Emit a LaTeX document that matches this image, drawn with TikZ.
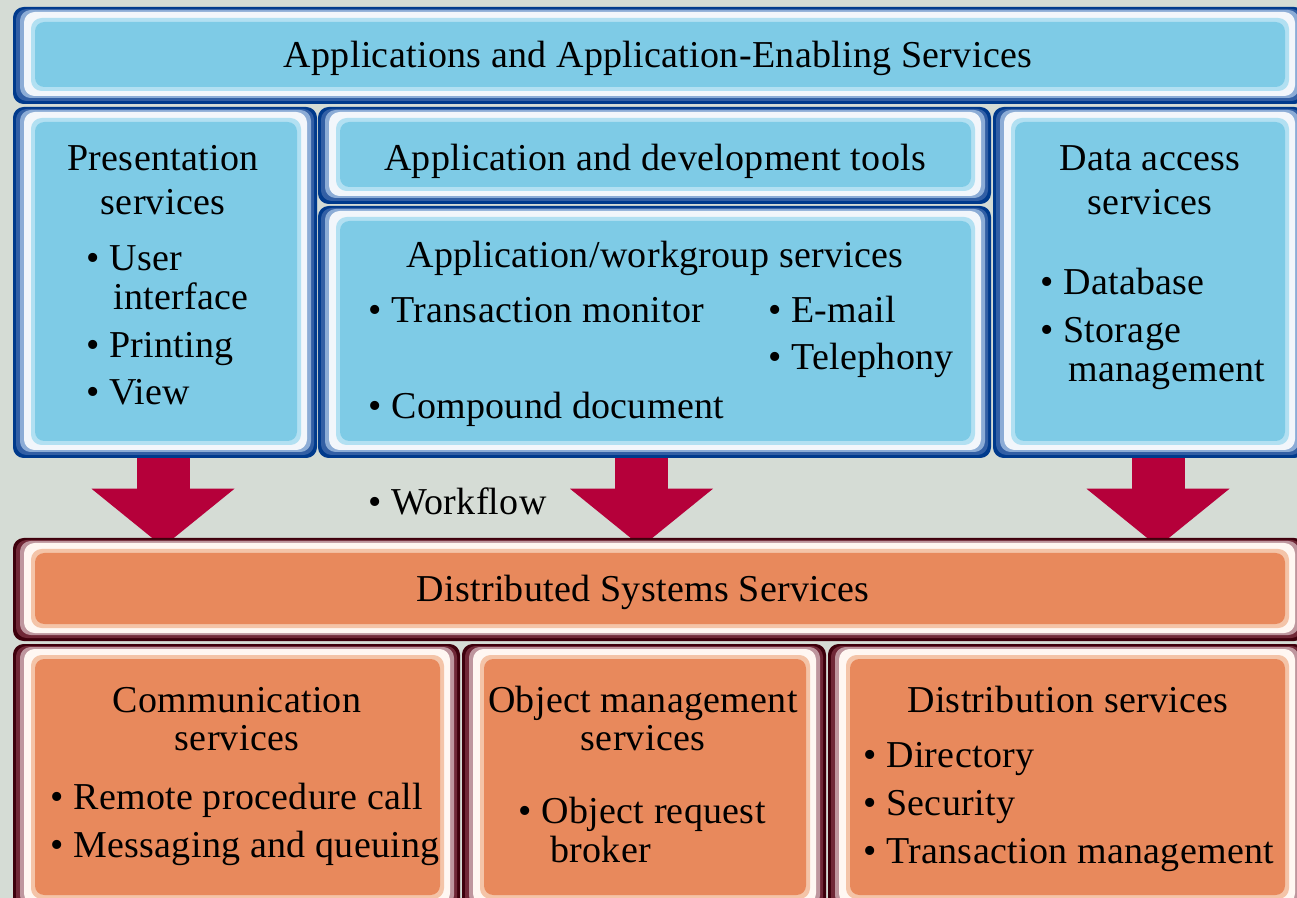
\documentclass[tikz,border=0pt]{standalone}
\usepackage{fontspec}
\setmainfont{Liberation Serif}[LetterSpace=0.8]
\usepackage{tikz}
\usetikzlibrary{arrows.meta,calc,fit}

\definecolor{bgGrey}{RGB}{213,220,213}
\definecolor{arrowRed}{RGB}{181,0,58}
% blue panels
\definecolor{skyEdge}{RGB}{0,58,140}
\definecolor{skyMid}{RGB}{50,95,165}
\definecolor{skyPale}{RGB}{140,172,214}
\definecolor{skyWhite}{RGB}{242,246,251}
\definecolor{skyRing}{RGB}{178,224,242}
\definecolor{skyFill}{RGB}{126,203,230}
% orange panels
\definecolor{peachEdge}{RGB}{62,0,12}
\definecolor{peachMid}{RGB}{112,40,55}
\definecolor{peachPale}{RGB}{190,150,158}
\definecolor{peachWhite}{RGB}{255,247,242}
\definecolor{peachRing}{RGB}{244,196,168}
\definecolor{peachFill}{RGB}{232,137,92}

\pgfdeclarelayer{back}
\pgfdeclarelayer{arrows}
\pgfsetlayers{back,arrows,main}

% name, x1, y1, x2, y2, colour set
\newcommand{\bevelpanel}[6]{%
  \fill[#6Edge, rounded corners=8pt] (#2,#3) rectangle (#4,#5);
  \fill[#6Mid, rounded corners=8pt] (#2+3,#3+2) rectangle (#4-3,#5-3);
  \fill[#6Pale, rounded corners=8pt] (#2+7,#3+3) rectangle (#4-6,#5-6);
  \fill[#6White, rounded corners=8pt] (#2+11,#3+5) rectangle (#4-10,#5-8);
  \fill[#6Ring, rounded corners=8pt] (#2+18,#3+11) rectangle (#4-16,#5-13);
  \fill[#6Fill, rounded corners=7pt] (#2+22,#3+15) rectangle (#4-20,#5-17);
  \node[fit={(#2,#3) (#4,#5)}, inner sep=0pt] (#1) {};
}

\tikzset{
  boxtext/.style={font=\fontsize{28.5}{34}\selectfont, inner sep=0pt, anchor=base},
  itemtext/.style={boxtext, anchor=base west},
  bigArrow/.style={draw=arrowRed, line width=39.75pt,
    -{Triangle[length=43.5pt, width=107.25pt, line width=0pt, fill=arrowRed]}},
}

\begin{document}
\begin{tikzpicture}[x=0.75pt,y=0.75pt,yscale=-1,xscale=1]
        \useasboundingbox (0,0) rectangle (1297,898);
        \clip (0,0) rectangle (1297,898);
        \begin{pgfonlayer}{back}
          \fill[bgGrey] (0,0) rectangle (1297,898);
        \end{pgfonlayer}
        % upper panels
        \bevelpanel{apps}{13}{7}{1305}{104}{sky}
        \bevelpanel{pres}{13}{107}{317}{458}{sky}
        \bevelpanel{tools}{318}{107}{991}{204}{sky}
        \bevelpanel{wg}{318}{206}{991}{458}{sky}
        \bevelpanel{data}{993}{107}{1305}{458}{sky}
        % lower panels
        \bevelpanel{dss}{13}{538}{1305}{641}{peach}
        \bevelpanel{comm}{13}{644}{460}{912}{peach}
        \bevelpanel{obj}{462}{644}{826}{912}{peach}
        \bevelpanel{dist}{828}{644}{1305}{912}{peach}
        % arrows down (under the panels)
        \begin{pgfonlayer}{arrows}
          \draw[bigArrow] ($(pres.south)+(-2,0)$) -- ($(pres.south |- dss.north)+(-2,9)$);
          \draw[bigArrow] ($(wg.south)+(-13,0)$) -- ($(wg.south |- dss.north)+(-13,9)$);
          \draw[bigArrow] ($(data.south)+(9,0)$) -- ($(data.south |- dss.north)+(9,9)$);
        \end{pgfonlayer}
        % Text Node
        \node[boxtext] (tApps) at (658,68) {Applications and Application-Enabling Services};
        \node[boxtext] (tPres) at (163,171) {Presentation};
        \node[boxtext] (tPresB) at (163,215) {services};
        \node[itemtext] (tUser) at (86,271) {\textbullet\ User};
        \node[itemtext] (tIface) at (113,310) {interface};
        \node[itemtext] (tPrint) at (86,358) {\textbullet\ Printing};
        \node[itemtext] (tView) at (86,405) {\textbullet\ View};
        \node[boxtext] (tTools) at (655,171) {Application and development tools};
        \node[boxtext] (tWg) at (655,268) {Application/workgroup services};
        \node[itemtext] (tTrans) at (368,323) {\textbullet\ Transaction monitor};
        \node[itemtext] (tMail) at (768,323) {\textbullet\ E-mail};
        \node[itemtext] (tPhone) at (768,370) {\textbullet\ Telephony};
        \node[itemtext] (tComp) at (368,419) {\textbullet\ Compound document};
        \node[itemtext] (tFlow) at (368,515) {\textbullet\ Workflow};
        \node[boxtext] (tData) at (1150,171) {Data access};
        \node[boxtext] (tDataB) at (1150,215) {services};
        \node[itemtext] (tBase) at (1040,295) {\textbullet\ Database};
        \node[itemtext] (tStore) at (1040,343) {\textbullet\ Storage};
        \node[itemtext] (tStoreB) at (1068,382) {management};
        \node[boxtext] (tDss) at (643,601) {Distributed Systems Services};
        \node[boxtext] (tComm) at (237,712) {Communication};
        \node[boxtext] (tCommB) at (237,750) {services};
        \node[itemtext] (tRpc) at (50,809) {\textbullet\ Remote procedure call};
        \node[itemtext] (tMsg) at (50,857) {\textbullet\ Messaging and queuing};
        \node[boxtext] (tObj) at (643,712) {Object management};
        \node[boxtext] (tObjB) at (643,750) {services};
        \node[itemtext] (tOrb) at (518,823) {\textbullet\ Object request};
        \node[itemtext] (tOrbB) at (550,862) {broker};
        \node[boxtext] (tDist) at (1068,712) {Distribution services};
        \node[itemtext] (tDir) at (863,767) {\textbullet\ Directory};
        \node[itemtext] (tSec) at (863,815) {\textbullet\ Security};
        \node[itemtext] (tTm) at (863,863) {\textbullet\ Transaction management};
\end{tikzpicture}
\end{document}
